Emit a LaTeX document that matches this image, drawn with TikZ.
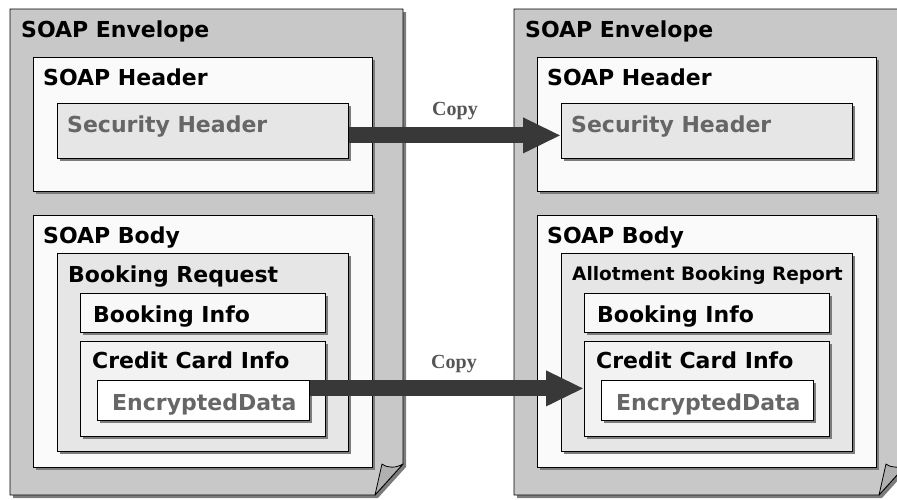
\documentclass[tikz,border=0pt]{standalone}
\usepackage{fontspec}
\setmainfont{DejaVu Sans}
\newfontfamily\copyfont{Liberation Serif}
\usetikzlibrary{shadows,arrows.meta,calc}
\definecolor{envfill}{HTML}{C8C8C8}
\definecolor{shadowgray}{HTML}{7C7C7C}
\definecolor{hdrfill}{HTML}{FAFAFA}
\definecolor{secfill}{HTML}{E6E6E6}
\definecolor{reqfill}{HTML}{E6E6E6}
\definecolor{binffill}{HTML}{F8F8F8}
\definecolor{ccfill}{HTML}{F2F2F2}
\definecolor{encfill}{HTML}{FFFFFF}
\definecolor{flapfill}{HTML}{B0B0B0}
\definecolor{arrowgray}{HTML}{383838}
\definecolor{graytext}{HTML}{666666}
\definecolor{copygray}{HTML}{555555}
\begin{document}
\begin{tikzpicture}[x=1pt,y=-1pt,
  shad/.style={drop shadow={shadow xshift=3pt, shadow yshift=-3pt, fill=shadowgray, opacity=1}},
  box/.style={draw=black, line width=0.8pt, anchor=north west, inner sep=0pt, shad},
  envelope/.style={draw=black, line width=0.8pt, fill=envfill, shad},
  flap/.style={draw=black, line width=0.8pt, fill=flapfill, line join=round},
  lbl/.style={anchor=base west, inner sep=0pt, font=\fontsize{22}{26}\selectfont\bfseries},
  lblsmall/.style={anchor=base west, inner sep=0pt, font=\fontsize{18.5}{22}\selectfont\bfseries},
  copylbl/.style={anchor=base, inner sep=0pt, text=copygray, font=\copyfont\fontsize{20}{24}\selectfont\bfseries},
  fatarrow/.style={draw=arrowgray, line width=16pt, -{Triangle[length=38pt,width=33pt]}},
]
\useasboundingbox (0,0) rectangle (897,499);
\clip (0,0) rectangle (897,499);

% ---------- left envelope ----------
\draw[envelope] (10,9) -- (403,9) -- (403,464) -- (375,495) -- (10,495) -- cycle;
\draw[flap] (375,495) -- (382,464) .. controls (388,468.5) and (396,468) .. (403,464) -- cycle;
\node[lbl] (envL) at (21,37) {SOAP Envelope};

\node[box, fill=hdrfill, minimum width=339pt, minimum height=134pt] (hdrL) at (33,57) {};
\node[lbl] (hdrLt) at (43,85) {SOAP Header};
\node[box, fill=secfill, minimum width=291pt, minimum height=55pt] (secL) at (57,103) {};
\node[lbl, text=graytext] (secLt) at (67,132) {Security Header};

\node[box, fill=hdrfill, minimum width=339pt, minimum height=252pt] (bodyL) at (33,215) {};
\node[lbl] (bodyLt) at (43,243) {SOAP Body};
\node[box, fill=reqfill, minimum width=291pt, minimum height=198pt] (reqL) at (57,253) {};
\node[lbl] (reqLt) at (68,282) {Booking Request};
\node[box, fill=binffill, minimum width=245pt, minimum height=39pt] (binfL) at (80,293) {};
\node[lbl] (binfLt) at (93,322) {Booking Info};
\node[box, fill=ccfill, minimum width=245pt, minimum height=95pt] (ccL) at (80,341) {};
\node[lbl] (ccLt) at (92,368) {Credit Card Info};
\node[box, fill=encfill, minimum width=212pt, minimum height=40pt] (encL) at (97,380) {};
\node[lbl, text=graytext] (encLt) at (112,410) {EncryptedData};

% ---------- right envelope ----------
\draw[envelope] (514,9) -- (907,9) -- (907,464) -- (879,495) -- (514,495) -- cycle;
\draw[flap] (879,495) -- (886,464) .. controls (892,468.5) and (900,468) .. (907,464) -- cycle;
\node[lbl] (envR) at (525,37) {SOAP Envelope};

\node[box, fill=hdrfill, minimum width=339pt, minimum height=134pt] (hdrR) at (537,57) {};
\node[lbl] (hdrRt) at (547,85) {SOAP Header};
\node[box, fill=secfill, minimum width=291pt, minimum height=55pt] (secR) at (561,103) {};
\node[lbl, text=graytext] (secRt) at (571,132) {Security Header};

\node[box, fill=hdrfill, minimum width=339pt, minimum height=252pt] (bodyR) at (537,215) {};
\node[lbl] (bodyRt) at (547,243) {SOAP Body};
\node[box, fill=reqfill, minimum width=291pt, minimum height=198pt] (reqR) at (561,253) {};
\node[lblsmall] (reqRt) at (572,280) {Allotment Booking Report};
\node[box, fill=binffill, minimum width=245pt, minimum height=39pt] (binfR) at (584,293) {};
\node[lbl] (binfRt) at (597,322) {Booking Info};
\node[box, fill=ccfill, minimum width=245pt, minimum height=95pt] (ccR) at (584,341) {};
\node[lbl] (ccRt) at (596,368) {Credit Card Info};
\node[box, fill=encfill, minimum width=212pt, minimum height=40pt] (encR) at (601,380) {};
\node[lbl, text=graytext] (encRt) at (616,410) {EncryptedData};

% ---------- arrows ----------
\path (secL.east) ++(0,4.5) coordinate (a1s);
\path (secR.west) ++(0,4.5) coordinate (a1e);
\draw[fatarrow] (a1s) -- (a1e);
\node[copylbl] (copy1) at (455,115) {Copy};

\path (encL.east) ++(0,-12) coordinate (a2s);
\path (ccR.west |- a2s) coordinate (a2e);
\draw[fatarrow] (a2s) -- (a2e);
\node[copylbl] (copy2) at (454,368) {Copy};
\end{tikzpicture}
\end{document}
